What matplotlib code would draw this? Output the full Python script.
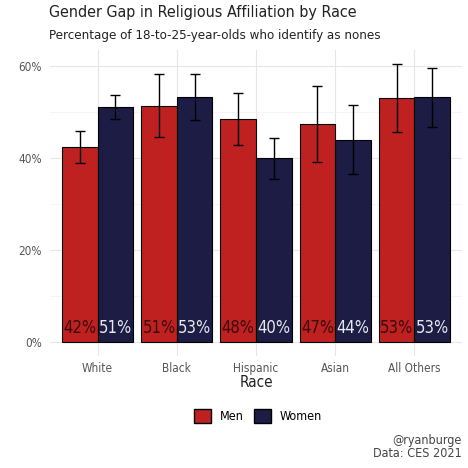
import matplotlib.pyplot as plt
import numpy as np
from matplotlib.patches import Patch

races = ["White", "Black", "Hispanic", "Asian", "All Others"]
men = [42.4, 51.3, 48.4, 47.3, 52.9]
women = [51.0, 53.2, 39.9, 43.9, 53.1]
men_lo = [38.9, 44.5, 42.7, 39.2, 45.5]
men_hi = [45.9, 58.1, 54.0, 55.5, 60.4]
women_lo = [48.4, 48.3, 35.5, 36.4, 46.7]
women_hi = [53.7, 58.1, 44.2, 51.4, 59.5]

red = "#BF2121"
navy = "#1C1C44"

plt.rcParams["font.family"] = ["DejaVu Sans"]
plt.rcParams["font.stretch"] = "condensed"

fig = plt.figure(figsize=(4.68, 4.68), dpi=100)
ax = fig.add_axes([50 / 468, 1 - 356 / 468, 412 / 468, 306 / 468])

x = np.arange(1, len(races) + 1)
w = 0.45
ax.bar(x - w / 2, men, width=w, color=red, edgecolor="black", linewidth=0.8, zorder=3)
ax.bar(x + w / 2, women, width=w, color=navy, edgecolor="black", linewidth=0.8, zorder=3)

for xs, v, lo, hi in [(x - w / 2, men, men_lo, men_hi), (x + w / 2, women, women_lo, women_hi)]:
    v = np.array(v)
    ax.errorbar(xs, v, yerr=[v - np.array(lo), np.array(hi) - v], fmt="none",
                ecolor="black", elinewidth=1.0, capsize=3.5, capthick=1.0, zorder=4)

for xi, m, f in zip(x, men, women):
    ax.text(xi - w / 2, 1.2, f"{round(m)}%", ha="center", va="bottom", fontsize=12,
            color="#3a0a0a", zorder=5)
    ax.text(xi + w / 2, 1.2, f"{round(f)}%", ha="center", va="bottom", fontsize=12,
            color="#e8e8f0", zorder=5)

ax.set_xlim(0.4, 5.6)
ax.set_ylim(-3, 63.4)
ax.set_yticks([0, 20, 40, 60])
ax.set_yticklabels(["0%", "20%", "40%", "60%"])
ax.set_yticks([10, 30, 50], minor=True)
ax.set_xticks(x)
ax.set_xticklabels(races)
ax.grid(True, which="major", color="#e6e6e6", linewidth=0.8, zorder=0)
ax.grid(True, which="minor", axis="y", color="#f2f2f2", linewidth=0.5, zorder=0)
for s in ax.spines.values():
    s.set_visible(False)
ax.tick_params(which="both", length=0, labelsize=8.5, colors="#555555", pad=6)
ax.tick_params(axis="x", pad=4)
ax.set_xlabel("Race", fontsize=11, color="#222222", labelpad=0)

fig.text(49 / 468, 1 - 13 / 468, "Gender Gap in Religious Affiliation by Race",
         fontsize=11.5, ha="left", va="center", color="#222222")
fig.text(49 / 468, 1 - 35 / 468, "Percentage of 18-to-25-year-olds who identify as nones",
         fontsize=9.5, ha="left", va="center", color="#222222")

handles = [Patch(facecolor=red, edgecolor="black", label="Men"),
           Patch(facecolor=navy, edgecolor="black", label="Women")]
fig.legend(handles=handles, loc="center", bbox_to_anchor=(258 / 468, 1 - 416 / 468),
           ncol=2, frameon=False, fontsize=9, handlelength=1.4, handleheight=1.4,
           handletextpad=0.7, columnspacing=0.8)

fig.text(462 / 468, 1 - 447 / 468, "@ryanburge\nData: CES 2021", ha="right", va="center",
         fontsize=9, color="#444444", linespacing=1.05)

fig.savefig("out.png", dpi=100)
